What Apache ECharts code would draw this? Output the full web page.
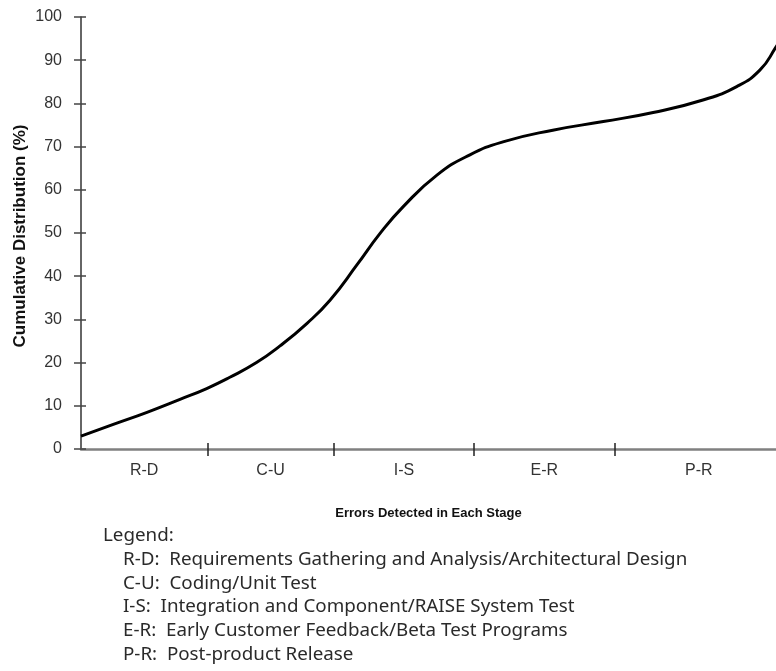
<!DOCTYPE html>
<html>
<head>
<meta charset="utf-8">
<script src="https://cdn.jsdelivr.net/npm/echarts@6/dist/echarts.min.js"></script>
<style>
html,body{margin:0;padding:0;background:#fff;}
#chart{width:776px;height:671px;}
</style>
</head>
<body>
<div id="chart"></div>
<script>
// Stage boundaries (position along the development timeline, arbitrary units)
var stageBoundaries = [18, 36, 56, 76];
var stageCenters = [9, 27, 46, 66, 88];
var stageLabels = ['R-D', 'C-U', 'I-S', 'E-R', 'P-R'];
var yTicks = [0, 10, 20, 30, 40, 50, 60, 70, 80, 90, 100];

// Curve
var curveX = [0, 4.6, 9.4, 14.1, 17.9, 21.2, 25.0, 28.3, 32.2, 35.5, 39.3, 42.6, 45.9, 50.7, 55.4, 60.1, 67.2, 74.4, 81.5, 88.6, 93.4, 96.7, 98.9, 100];
var curveY = [3.0, 5.7, 8.5, 11.5, 14.0, 16.6, 20.0, 23.8, 29.1, 34.5, 42.6, 49.9, 56.1, 63.4, 68.1, 71.1, 73.8, 75.8, 77.9, 80.8, 83.9, 87.7, 92.8, 96];

var legendTitle = 'Legend:';
var legendLines = [
  'R-D:  Requirements Gathering and Analysis/Architectural Design',
  'C-U:  Coding/Unit Test',
  'I-S:  Integration and Component/RAISE System Test',
  'E-R:  Early Customer Feedback/Beta Test Programs',
  'P-R:  Post-product Release'
];

var xName = 'Errors Detected in Each Stage';
var yName = 'Cumulative Distribution (%)';

var chart = echarts.init(document.getElementById('chart'), null, {renderer: 'canvas'});

var data = curveX.map(function (x, i) { return [x, curveY[i]]; });

var legendFont = '"Noto Sans", sans-serif';
var graphics = [];
graphics.push({
  type: 'text', left: 103, top: 526,
  style: {text: legendTitle, font: '18.8px ' + legendFont, fill: '#2a2a2a'}
});
legendLines.forEach(function (t, i) {
  graphics.push({
    type: 'text', left: 123, top: 550 + i * 23.7,
    style: {text: t, font: '18.8px ' + legendFont, fill: '#2a2a2a'}
  });
});
graphics.push({
  type: 'text', x: 20, y: 236, rotation: Math.PI / 2,
  style: {text: yName, font: 'bold 17px "Liberation Sans", Arial, sans-serif', fill: '#111', align: 'center', verticalAlign: 'middle'}
});

var option = {
  backgroundColor: '#fff',
  animation: false,
  grid: {left: 81, right: 0, top: 17, bottom: 222, containLabel: false},
  xAxis: [{
    type: 'value', min: 0, max: 99,
    name: xName, nameLocation: 'middle', nameGap: 58,
    nameTextStyle: {fontFamily: '"Liberation Sans", Arial, sans-serif', fontWeight: 'bold', fontSize: 13, color: '#111'},
    axisLine: {show: true, lineStyle: {color: '#808080', width: 2.5}},
    axisTick: {show: true, length: 7, customValues: stageBoundaries, lineStyle: {color: '#222', width: 1.5}},
    axisLabel: {show: true, customValues: stageCenters, margin: 14,
      fontFamily: '"Liberation Sans", Arial, sans-serif', fontSize: 16, color: '#333',
      formatter: function (v) { var i = stageCenters.indexOf(v); return i >= 0 ? stageLabels[i] : ''; }},
    splitLine: {show: false}
  }, {
    type: 'value', min: 0, max: 99, position: 'bottom',
    axisLine: {show: false},
    axisTick: {show: true, inside: true, length: 6, customValues: stageBoundaries, lineStyle: {color: '#222', width: 1.5}},
    axisLabel: {show: false},
    splitLine: {show: false}
  }],
  yAxis: [{
    type: 'value', min: 0, max: 100, interval: 10,
    axisLine: {show: true, lineStyle: {color: '#333', width: 1.5}},
    axisTick: {show: true, length: 7, lineStyle: {color: '#444', width: 1.5}},
    axisLabel: {margin: 19, fontFamily: '"Liberation Sans", Arial, sans-serif', fontSize: 16, color: '#333',
      formatter: function (v) { return yTicks.indexOf(v) >= 0 ? String(v) : ''; }},
    splitLine: {show: false}
  }, {
    type: 'value', min: 0, max: 100, interval: 10, position: 'left',
    axisLine: {show: false},
    axisTick: {show: true, inside: true, length: 5, lineStyle: {color: '#444', width: 1.5}},
    axisLabel: {show: false},
    splitLine: {show: false}
  }],
  series: [{
    type: 'line', xAxisIndex: 0, yAxisIndex: 0,
    data: data, smooth: 0.5, symbol: 'none', clip: true,
    lineStyle: {color: '#000', width: 3}
  }],
  graphic: graphics
};
chart.setOption(option);
</script>
</body>
</html>
